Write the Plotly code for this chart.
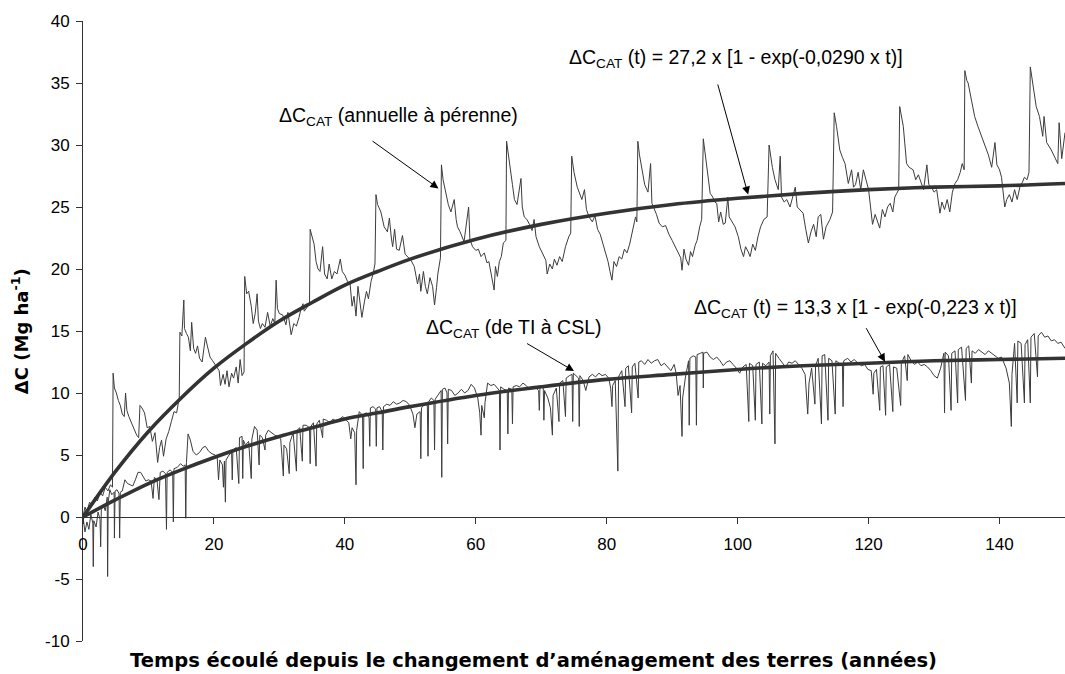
import plotly.graph_objects as go

# ---- data ----
# noisy series "annuelle à pérenne" : (time in years, ΔC Mg/ha)
annual_pts = [
    (0.0, 0.0), (0.3, 0.8), (0.6, 0.4), (1.0, 1.2), (1.4, 0.9), (1.8, 1.6), (2.2, 1.3), (2.6, 2.0),
    (3.0, 1.7), (3.4, 2.4), (3.8, 2.1), (4.2, 2.6), (4.5, 2.4),
    (4.6, 11.6), (4.8, 10.4), (5.1, 10.0), (5.4, 9.4), (5.7, 9.0), (6.0, 8.3), (6.3, 8.1), (6.5, 10.0),
    (6.7, 8.6), (7.0, 8.1), (7.4, 7.6), (7.8, 7.0), (8.2, 6.6), (8.5, 6.4), (8.7, 9.0), (9.0, 8.8),
    (9.4, 8.4), (9.8, 7.2), (10.2, 7.3), (10.6, 6.1), (11.0, 6.8), (11.4, 4.4), (11.7, 5.6), (12.0, 6.2),
    (12.3, 4.9), (12.7, 6.3), (13.1, 6.9), (13.5, 7.7), (13.9, 8.5), (14.3, 8.4), (14.7, 9.6),
    (14.8, 14.9), (15.1, 14.6), (15.4, 17.5), (15.5, 15.2), (15.8, 14.8), (16.1, 14.5), (16.4, 13.4),
    (16.6, 15.7), (16.9, 13.6), (17.2, 13.2), (17.5, 13.8), (17.8, 12.8), (18.2, 12.5), (18.7, 14.5),
    (19.0, 13.8), (19.4, 12.9), (19.8, 12.6), (20.3, 12.2), (20.8, 11.8), (21.0, 10.6), (21.4, 11.5),
    (21.7, 10.7), (22.0, 11.8), (22.3, 10.5), (22.7, 11.6), (23.0, 11.2), (23.4, 12.1), (23.7, 10.8),
    (24.0, 12.7), (24.3, 11.4), (24.6, 11.7),
    (24.7, 19.4), (25.0, 18.0), (25.3, 18.2), (25.7, 17.0), (26.0, 15.6), (26.3, 16.4), (26.6, 18.0),
    (26.8, 15.8), (27.1, 15.2), (27.4, 15.6), (27.8, 15.3), (28.2, 16.5), (28.6, 15.4), (29.0, 16.0),
    (29.3, 15.6), (29.5, 19.1), (29.7, 16.8), (30.0, 16.4), (30.5, 16.3), (31.0, 15.5), (31.3, 16.5),
    (31.8, 14.7), (32.2, 15.6), (32.6, 15.4), (33.0, 16.1), (33.3, 16.8), (33.6, 17.2), (33.8, 16.6),
    (34.2, 16.9), (34.6, 17.2),
    (34.7, 23.2), (35.0, 22.6), (35.3, 22.0), (35.6, 20.6), (35.9, 20.0), (36.2, 19.8), (36.6, 21.8),
    (36.9, 19.6), (37.3, 19.2), (37.6, 20.4), (38.0, 19.2), (38.4, 19.8), (38.8, 19.6), (39.3, 20.8),
    (39.6, 19.8), (40.0, 19.5), (40.4, 19.0), (40.8, 18.8), (41.1, 17.0), (41.4, 17.8), (41.7, 16.2),
    (42.0, 18.6), (42.3, 17.2), (42.6, 16.1), (43.0, 17.4), (43.3, 18.2), (43.6, 17.6), (44.0, 19.0),
    (44.3, 19.6), (44.6, 20.4),
    (44.75, 26.0), (45.0, 25.2), (45.5, 24.6), (46.0, 23.4), (46.5, 23.0), (46.8, 24.1), (47.1, 22.5),
    (47.3, 21.8), (47.6, 23.2), (47.9, 21.6), (48.3, 21.5), (48.8, 22.7), (49.2, 21.2), (49.6, 21.0),
    (50.1, 20.7), (50.6, 20.2), (51.1, 18.8), (51.4, 19.6), (51.6, 18.2), (52.0, 19.8), (52.3, 18.6),
    (52.6, 18.0), (53.0, 19.3), (53.4, 18.6), (53.7, 17.1), (54.0, 18.5), (54.2, 19.6), (54.6, 20.9),
    (54.75, 28.4), (55.0, 27.2), (55.4, 26.1), (55.8, 25.2), (56.2, 24.6), (56.7, 25.6), (57.0, 24.0),
    (57.2, 23.4), (57.6, 23.0), (58.0, 22.4), (58.2, 22.2), (58.9, 25.0), (59.1, 22.4), (59.5, 21.8),
    (60.0, 21.5), (60.4, 21.6), (60.8, 21.0), (61.3, 21.3), (61.7, 20.5), (62.0, 20.6), (62.3, 19.6),
    (62.8, 18.3), (63.0, 20.2), (63.3, 19.4), (63.6, 20.6), (63.9, 21.0), (64.2, 22.1), (64.6, 22.3),
    (64.7, 30.3), (65.0, 29.0), (65.3, 28.0), (65.6, 26.8), (65.9, 25.6), (66.3, 25.2), (66.9, 27.3),
    (67.1, 25.0), (67.4, 24.2), (67.8, 24.0), (68.2, 23.6), (68.6, 23.1), (68.9, 24.0), (69.2, 22.6),
    (69.7, 21.8), (70.2, 21.2), (70.7, 20.7), (70.9, 19.6), (71.3, 20.4), (71.7, 20.0), (72.0, 20.8),
    (72.4, 20.3), (72.8, 21.0), (73.2, 20.6), (73.7, 21.8), (74.2, 22.6), (74.5, 22.9),
    (74.65, 29.1), (75.0, 27.8), (75.5, 26.6), (75.9, 26.0), (76.2, 25.6), (76.6, 26.4), (76.9, 24.8),
    (77.3, 24.2), (77.8, 23.8), (78.2, 24.3), (78.6, 23.2), (79.0, 22.8), (79.3, 22.3), (79.7, 21.6),
    (80.2, 20.6), (80.5, 19.8), (80.8, 19.1), (81.1, 20.6), (81.5, 20.2), (81.9, 21.0), (82.3, 20.8),
    (82.7, 21.6), (83.1, 21.3), (83.5, 22.0), (83.9, 22.9), (84.4, 24.2), (84.6, 23.8),
    (84.75, 30.3), (85.0, 29.2), (85.4, 28.0), (85.8, 26.8), (86.3, 26.2), (86.7, 28.5), (86.9, 25.3),
    (87.3, 24.8), (87.6, 24.4), (88.0, 23.7), (88.5, 23.4), (89.0, 23.5), (89.5, 22.8), (90.0, 22.3),
    (90.5, 21.8), (91.0, 21.2), (91.3, 20.9), (91.5, 19.9), (91.8, 21.6), (92.1, 20.8), (92.5, 20.3),
    (92.8, 21.4), (93.1, 21.0), (93.5, 21.9), (93.8, 22.3), (94.2, 23.4), (94.5, 24.0),
    (94.75, 30.5), (95.0, 29.4), (95.3, 28.2), (95.8, 26.1), (96.2, 25.8), (96.5, 25.4), (96.8, 25.3),
    (97.1, 23.8), (97.4, 24.6), (97.8, 23.6), (98.1, 23.7), (98.5, 25.8), (98.7, 24.2), (99.1, 23.8),
    (99.6, 23.4), (100.1, 22.6), (100.5, 21.6), (100.9, 21.0), (101.2, 21.8), (101.6, 21.4),
    (101.9, 21.0), (102.3, 22.0), (102.7, 21.5), (103.1, 22.6), (103.5, 23.4), (104.0, 24.0), (104.5, 24.2),
    (104.8, 30.0), (105.0, 29.2), (105.3, 28.2), (105.7, 27.2), (106.2, 26.4), (106.5, 29.1),
    (106.7, 25.8), (107.1, 25.4), (107.5, 25.6), (108.0, 25.0), (108.4, 25.8), (108.8, 26.6),
    (109.1, 25.0), (109.5, 24.8), (110.0, 24.5), (110.4, 23.2), (110.8, 22.1), (111.2, 23.0),
    (111.6, 23.6), (112.0, 22.6), (112.3, 24.2), (112.7, 24.4), (113.1, 22.4), (113.5, 23.4),
    (114.1, 24.0), (114.5, 24.6),
    (114.75, 32.6), (115.1, 31.5), (115.6, 29.6), (116.0, 29.0), (116.4, 28.5), (116.9, 26.9),
    (117.4, 28.0), (117.7, 26.6), (118.0, 26.8), (118.4, 27.8), (118.8, 26.4), (119.2, 28.0),
    (119.6, 27.2), (120.0, 26.4), (120.3, 25.0), (120.6, 23.6), (121.0, 24.4), (121.4, 23.8),
    (121.7, 23.3), (122.1, 24.8), (122.5, 24.2), (122.9, 25.0), (123.3, 25.3), (123.7, 24.6),
    (124.0, 25.8), (124.3, 26.1), (124.6, 26.4),
    (124.75, 33.1), (125.0, 32.4), (125.3, 31.5), (125.8, 28.5), (126.2, 28.2), (126.8, 28.0),
    (127.2, 27.2), (127.6, 27.6), (128.0, 27.0), (128.4, 26.4), (128.9, 28.4), (129.2, 26.8),
    (129.6, 26.6), (130.0, 26.2), (130.4, 26.4), (130.9, 24.5), (131.2, 25.4), (131.6, 24.8),
    (132.0, 25.6), (132.4, 24.6), (132.8, 26.2), (133.2, 26.9), (133.6, 27.2), (134.0, 27.8),
    (134.3, 28.5), (134.6, 28.0),
    (134.7, 36.0), (135.0, 35.2), (135.2, 35.0), (135.7, 33.6), (136.2, 32.3), (136.7, 31.5),
    (137.2, 30.8), (137.8, 29.9), (138.3, 29.2), (138.8, 28.2), (139.3, 30.2), (139.6, 28.4),
    (140.0, 28.0), (140.3, 27.4), (140.8, 25.0), (141.1, 25.6), (141.5, 26.0), (141.9, 25.4),
    (142.3, 26.4), (142.7, 25.6), (143.1, 26.6), (143.5, 27.0), (143.8, 27.4), (144.2, 27.2), (144.5, 27.8),
    (144.7, 36.3), (145.1, 35.0), (145.6, 33.1), (146.1, 32.3), (146.6, 30.7), (146.8, 32.3),
    (147.2, 30.2), (147.9, 29.6), (148.4, 29.0), (148.9, 28.5), (149.1, 31.8), (149.5, 28.9), (150.0, 31.0),
]

# noisy series "de TI à CSL"
csl_pts = [
    (0.0, 0.0), (0.3, -1.2), (0.6, -0.4), (0.9, -1.0), (1.2, 0.2), (1.5, -0.5), (1.57, -4.0), (1.65, -0.3),
    (2.0, -0.8), (2.3, 0.4), (2.6, -0.2), (2.7, -2.4), (2.8, 0.6), (3.1, 1.0), (3.4, 0.5), (3.7, 1.6),
    (3.76, -4.8), (3.85, 1.2), (4.1, 2.2), (4.4, 1.8), (4.75, 2.0), (4.8, -1.7), (4.9, 2.1), (5.2, 2.2),
    (5.5, 1.9), (5.6, -1.7), (5.7, 2.0), (6.0, 2.1), (6.4, 3.0), (6.8, 2.7), (7.2, 2.6), (7.6, 2.5),
    (8.0, 3.0), (8.4, 3.6), (8.8, 3.6), (9.2, 3.3), (9.6, 2.9), (10.0, 3.0), (10.4, 2.9), (10.7, 1.5),
    (10.9, 3.2), (11.3, 3.0), (11.6, 1.4), (11.8, 3.6), (12.2, 3.7), (12.6, 3.5), (12.75, -1.0),
    (12.85, 3.6), (13.3, 3.8), (13.7, 3.6), (13.8, -0.4), (13.9, 3.9), (14.4, 4.0), (14.9, 4.3),
    (15.3, 4.1), (15.6, 4.2), (15.7, -0.1), (15.8, 4.4), (16.05, 6.7), (16.4, 6.2), (16.8, 5.3),
    (17.3, 5.0), (17.8, 5.2), (18.3, 5.6), (18.7, 5.7), (19.2, 5.3), (19.7, 5.1), (20.2, 5.0),
    (20.5, 4.8), (20.7, 3.0), (20.9, 4.6), (21.3, 4.2), (21.45, 2.4), (21.6, 4.5), (21.75, 1.2),
    (21.85, 4.6), (22.3, 5.0), (22.7, 5.2), (22.8, 3.0), (22.9, 5.4), (23.4, 5.6), (23.8, 2.7),
    (23.9, 6.4), (24.3, 6.5), (24.4, 3.1), (24.5, 6.2), (24.8, 5.8), (25.3, 6.1), (25.7, 3.1),
    (25.8, 6.3), (26.2, 7.3), (26.6, 7.0), (26.9, 4.2), (27.0, 6.6), (27.4, 6.4), (27.8, 5.4),
    (27.9, 6.6), (28.3, 7.0), (28.8, 6.8), (29.3, 6.6), (29.8, 6.5), (30.2, 6.3), (30.6, 3.3),
    (30.7, 5.8), (31.1, 5.5), (31.5, 3.5), (31.6, 6.0), (32.1, 6.8), (32.6, 3.7), (32.7, 7.0),
    (33.1, 7.2), (33.5, 4.5), (33.6, 7.4), (34.1, 7.4), (34.6, 7.2), (34.7, 4.3), (34.8, 7.3),
    (35.2, 7.6), (35.6, 4.1), (35.7, 7.5), (36.1, 7.8), (36.6, 6.4), (36.7, 7.9), (37.2, 7.8),
    (37.7, 7.6), (38.2, 7.9), (38.7, 7.7), (39.2, 7.9), (39.7, 8.1), (40.2, 7.8), (40.6, 7.6),
    (40.9, 6.3), (41.1, 7.2), (41.5, 6.8), (41.7, 2.6), (41.8, 7.0), (42.2, 8.5), (42.7, 8.2),
    (42.8, 3.9), (42.9, 8.3), (43.3, 8.4), (43.7, 8.0), (43.8, 5.7), (43.9, 8.8), (44.3, 8.9),
    (44.7, 8.7), (44.8, 5.7), (44.9, 8.8), (45.3, 8.9), (45.7, 8.5), (45.8, 5.4), (45.9, 8.9),
    (46.4, 9.1), (46.9, 9.0), (47.4, 9.3), (47.9, 9.1), (48.4, 9.2), (48.9, 9.4), (49.4, 9.3),
    (49.9, 9.0), (50.4, 8.3), (50.7, 7.2), (51.0, 8.3), (51.5, 8.5), (51.6, 4.7), (51.7, 8.8),
    (52.2, 9.1), (52.6, 9.0), (52.7, 4.9), (52.8, 9.3), (53.2, 9.6), (53.6, 9.4), (53.7, 5.4),
    (53.8, 9.5), (54.3, 9.9), (54.7, 10.2), (54.8, 3.2), (54.9, 10.3), (55.3, 10.4), (55.6, 10.0),
    (55.7, 5.9), (55.8, 10.3), (56.3, 10.2), (56.8, 9.8), (57.3, 10.0), (57.8, 10.3), (58.3, 10.0),
    (58.8, 10.2), (59.3, 10.7), (59.8, 10.4), (60.3, 9.6), (60.6, 8.4), (60.8, 6.6), (60.9, 9.0),
    (61.3, 8.0), (61.4, 9.2), (61.8, 10.8), (62.3, 10.6), (62.8, 10.7), (63.3, 10.4), (63.6, 10.2),
    (63.7, 5.4), (63.8, 10.5), (64.3, 10.3), (64.8, 10.2), (64.9, 6.7), (65.0, 10.4), (65.5, 10.3),
    (65.6, 7.5), (65.7, 10.5), (66.2, 10.6), (66.7, 10.5), (67.2, 10.8), (67.7, 10.6), (68.2, 10.3),
    (68.7, 10.5), (69.2, 10.4), (69.6, 10.2), (69.7, 8.6), (69.8, 10.4), (70.3, 10.6), (70.4, 7.8),
    (70.5, 10.2), (71.0, 9.6), (71.4, 8.8), (71.7, 6.6), (71.8, 9.8), (72.3, 10.4), (72.7, 7.7),
    (72.8, 10.8), (73.3, 11.0), (73.7, 8.1), (73.8, 11.2), (74.3, 11.4), (74.7, 11.5), (74.8, 7.7),
    (74.9, 11.6), (75.3, 11.4), (75.7, 11.2), (75.8, 7.3), (75.9, 11.4), (76.4, 11.0), (76.8, 10.2),
    (77.3, 11.3), (77.8, 11.5), (78.3, 11.3), (78.8, 11.6), (79.3, 11.4), (79.8, 11.5), (80.3, 11.2),
    (80.6, 10.4), (80.8, 8.9), (80.9, 10.6), (81.3, 11.0), (81.7, 3.7), (81.8, 11.3), (82.3, 11.8),
    (82.8, 8.9), (82.9, 12.0), (83.3, 12.2), (83.8, 8.4), (83.9, 12.1), (84.3, 12.4), (84.8, 9.6),
    (84.9, 12.5), (85.3, 12.6), (85.8, 12.3), (86.3, 12.7), (86.8, 12.4), (87.3, 12.6), (87.8, 12.7),
    (88.3, 12.2), (88.8, 12.4), (89.3, 12.1), (89.8, 11.8), (90.3, 12.3), (90.6, 11.6), (90.9, 9.8),
    (91.2, 10.6), (91.5, 6.5), (91.6, 9.6), (92.0, 11.2), (92.5, 12.6), (92.6, 7.4), (92.7, 12.8),
    (93.2, 13.0), (93.6, 12.9), (93.7, 7.4), (93.8, 13.1), (94.3, 13.2), (94.7, 13.3), (94.75, 10.4),
    (94.8, 13.2), (95.3, 13.3), (95.8, 12.9), (96.3, 12.7), (96.8, 12.9), (97.3, 12.6), (97.8, 12.2),
    (98.3, 12.5), (98.8, 12.6), (99.3, 12.3), (99.8, 12.0), (100.3, 11.6), (100.8, 12.1), (101.3, 12.3),
    (101.7, 7.7), (101.8, 12.4), (102.3, 12.2), (102.7, 7.8), (102.8, 12.3), (103.3, 12.5), (103.7, 7.5),
    (103.8, 12.4), (104.3, 12.2), (104.8, 12.5), (104.9, 8.3), (105.0, 13.0), (105.4, 13.4), (105.7, 5.9),
    (105.8, 13.2), (106.3, 12.8), (106.8, 12.4), (107.3, 12.1), (107.8, 12.5), (108.3, 12.4),
    (108.8, 12.6), (109.3, 12.3), (109.8, 12.0), (110.3, 11.5), (110.7, 8.3), (110.9, 10.8),
    (111.3, 12.0), (111.8, 9.1), (111.9, 12.2), (112.3, 12.8), (112.8, 7.5), (112.9, 13.0),
    (113.3, 13.1), (113.8, 7.8), (113.9, 12.8), (114.4, 12.6), (114.9, 8.3), (115.0, 12.6),
    (115.5, 12.4), (116.0, 12.3), (116.1, 8.9), (116.2, 12.6), (116.8, 12.8), (117.3, 12.5),
    (117.8, 12.7), (118.4, 12.4), (118.9, 12.2), (119.4, 12.3), (119.9, 11.9), (120.4, 11.8),
    (120.7, 9.9), (120.8, 11.6), (121.2, 11.9), (121.7, 8.6), (121.8, 12.1), (122.2, 12.2),
    (122.6, 8.2), (122.7, 12.1), (123.2, 12.3), (123.7, 8.5), (123.8, 12.1), (124.3, 12.0),
    (124.9, 9.0), (125.0, 12.4), (125.5, 13.0), (125.9, 11.0), (126.0, 13.1), (126.5, 12.6),
    (127.0, 12.3), (127.5, 12.5), (128.0, 12.2), (128.5, 12.3), (129.0, 12.1), (129.5, 11.8),
    (130.0, 11.4), (130.5, 11.2), (131.0, 12.0), (131.5, 13.2), (131.6, 8.4), (131.7, 13.3),
    (132.2, 13.0), (132.6, 8.6), (132.7, 13.2), (133.2, 13.4), (133.6, 9.2), (133.7, 13.5),
    (134.2, 13.7), (134.8, 9.4), (134.9, 13.6), (135.3, 13.8), (135.7, 10.8), (135.8, 13.4),
    (136.3, 13.2), (136.8, 13.5), (137.3, 13.3), (137.8, 13.1), (138.3, 13.4), (138.8, 13.2),
    (139.3, 13.0), (139.8, 12.8), (140.3, 12.9), (140.6, 12.5), (141.0, 12.0), (141.5, 10.8),
    (141.8, 7.3), (141.9, 11.5), (142.3, 14.0), (142.7, 9.2), (142.8, 14.2), (143.3, 14.0),
    (143.8, 9.2), (143.9, 13.9), (144.3, 14.3), (144.7, 9.2), (144.8, 14.5), (145.3, 14.8),
    (145.8, 11.3), (145.9, 14.6), (146.4, 14.9), (146.9, 14.5), (147.4, 14.6), (147.9, 14.2),
    (148.4, 14.3), (148.9, 14.0), (149.4, 14.1), (150.0, 13.6),
]

# fitted curves, read at regular times
fit_t = [0, 5, 10, 15, 20, 25, 30, 35, 40, 45, 50, 60, 70, 80, 90, 100, 110, 120, 130, 140, 150]
fit_annual = [0, 3.7, 6.9, 9.6, 12.0, 14.0, 15.8, 17.3, 18.7, 19.8, 20.8, 22.4, 23.6, 24.5, 25.2,
              25.7, 26.1, 26.4, 26.6, 26.7, 26.9]
fit_csl = [0, 1.4, 2.7, 3.8, 4.8, 5.7, 6.5, 7.2, 7.9, 8.4, 8.9, 9.8, 10.5, 11.1, 11.5, 11.9,
           12.2, 12.4, 12.6, 12.7, 12.8]

x_ticks = [0, 20, 40, 60, 80, 100, 120, 140]
y_ticks = [-10, -5, 0, 5, 10, 15, 20, 25, 30, 35, 40]
y_ticktext = ["-10", "-5", "0", "5", "10", "15", "20", "25", "30", "35", "40"]

labels = {
    "annual": "ΔC<sub>CAT</sub> (annuelle à pérenne)",
    "annual_fit": "ΔC<sub>CAT</sub> (t) = 27,2 x [1 - exp(-0,0290 x t)]",
    "csl": "ΔC<sub>CAT</sub> (de TI à CSL)",
    "csl_fit": "ΔC<sub>CAT</sub> (t) = 13,3 x [1 - exp(-0,223 x t)]",
    "xtitle": "Temps écoulé depuis le changement d’aménagement des terres (années)",
    "ytitle": "ΔC (Mg ha<sup>-1</sup>)",
}

FONT = "Liberation Sans, Arial, sans-serif"
TITLE_FONT = "DejaVu Sans, Liberation Sans, sans-serif"
NOISE_C = "#3c3c3c"
FIT_C = "#333333"

fig = go.Figure()
for pts in (annual_pts, csl_pts):
    fig.add_trace(go.Scatter(x=[p[0] for p in pts], y=[p[1] for p in pts], mode="lines",
                             line=dict(color=NOISE_C, width=1), hoverinfo="skip"))
for ys in (fit_annual, fit_csl):
    fig.add_trace(go.Scatter(x=fit_t, y=ys, mode="lines",
                             line=dict(color=FIT_C, width=3.6, shape="spline"), hoverinfo="skip"))

ann_font = dict(family=FONT, size=19.5, color="black")
texts = [
    (labels["annual"], 29.7, 32.3),
    (labels["annual_fit"], 74.0, 37.0),
    (labels["csl"], 52.1, 15.2),
    (labels["csl_fit"], 93.0, 16.85),
]
for txt, x, y in texts:
    fig.add_annotation(x=x, y=y, xref="x", yref="y", text=txt, showarrow=False,
                       xanchor="left", yanchor="middle", font=ann_font)

arrows = [  # (tail x, tail y, tip x, tip y)
    (44.0, 30.4, 54.3, 26.5),
    (96.9, 35.0, 101.6, 26.0),
    (67.6, 14.06, 75.0, 11.77),
    (119.5, 15.35, 122.5, 12.52),
]
for ax_, ay_, x, y in arrows:
    fig.add_annotation(x=x, y=y, ax=ax_, ay=ay_, xref="x", yref="y", axref="x", ayref="y",
                       text="", showarrow=True, arrowhead=2, arrowsize=1.6, arrowwidth=1,
                       arrowcolor="black")

fig.add_annotation(x=0.459, y=-0.031, xref="paper", yref="paper", text="<b>" + labels["xtitle"] + "</b>",
                   showarrow=False, xanchor="center", yanchor="middle",
                   font=dict(family=TITLE_FONT, size=19.5, color="black"))
fig.add_annotation(x=-0.064, y=0.5, xref="paper", yref="paper", text="<b>" + labels["ytitle"] + "</b>",
                   showarrow=False, textangle=-90, xanchor="center", yanchor="middle",
                   font=dict(family=TITLE_FONT, size=18, color="black"))

fig.update_layout(
    width=1065, height=674,
    margin=dict(l=83, r=0, t=21, b=33),
    paper_bgcolor="white", plot_bgcolor="white",
    showlegend=False,
    font=dict(family=FONT, size=17, color="black"),
    xaxis=dict(range=[0, 150], tickvals=x_ticks, ticks="outside", ticklen=6, tickcolor="#333",
               showline=True, linecolor="#333", linewidth=1, showgrid=False, zeroline=False,
               anchor="free", position=0.2, tickfont=dict(size=17), ticklabelstandoff=6),
    yaxis=dict(range=[-10, 40], tickvals=y_ticks, ticktext=y_ticktext, ticks="outside", ticklen=6,
               tickcolor="#333", showline=True, linecolor="#333", linewidth=1, showgrid=False,
               zeroline=False, tickfont=dict(size=17), ticklabelstandoff=3),
)

# remove the default page margin so the figure fills the window exactly; hide the mode bar
fig.write_html("out.html", config={"displayModeBar": False},
               post_script="document.body.style.margin='0px';")
